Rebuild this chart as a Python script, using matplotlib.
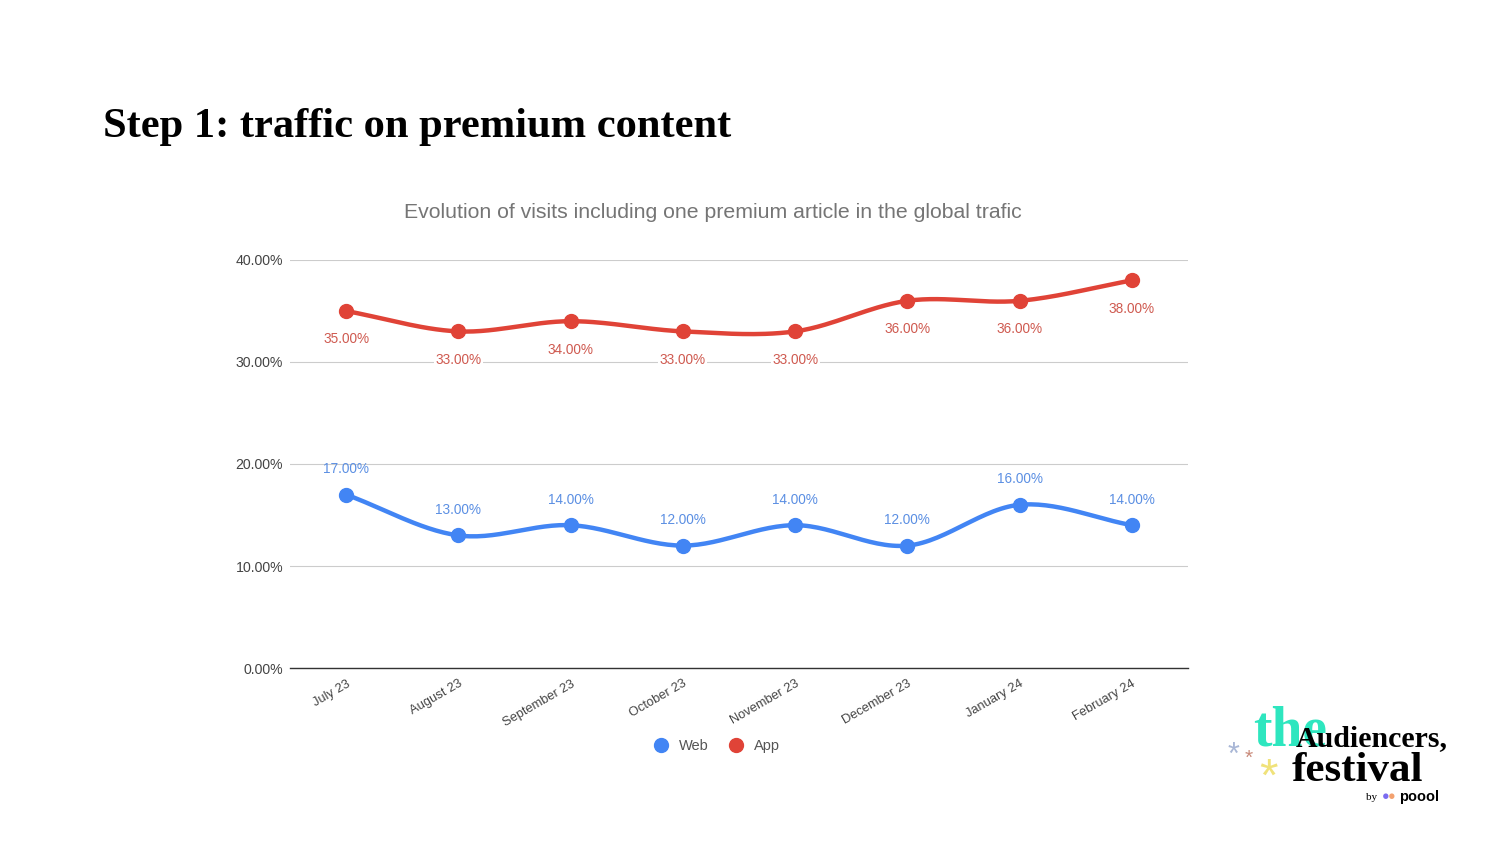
"""
Step 1: traffic on premium content - line chart with smoothed curves.
"""

import numpy as np
import matplotlib.pyplot as plt
from matplotlib.lines import Line2D

# Data
months = ['July 23', 'August 23', 'September 23', 'October 23',
          'November 23', 'December 23', 'January 24', 'February 24']
web = [17, 13, 14, 12, 14, 12, 16, 14]
app = [35, 33, 34, 33, 33, 36, 36, 38]
y_ticks = [0, 10, 20, 30, 40]

WEB_COLOR = '#4285f4'
APP_COLOR = '#e04337'
WEB_LABEL = '#5b8fe3'
APP_LABEL = '#cf5a50'


def smooth(x, y, steps=30):
    """Catmull-Rom spline through the points (drawing only)."""
    x = np.asarray(x, float)
    y = np.asarray(y, float)
    px = np.concatenate([[2 * x[0] - x[1]], x, [2 * x[-1] - x[-2]]])
    py = np.concatenate([[2 * y[0] - y[1]], y, [2 * y[-1] - y[-2]]])
    xs, ys = [], []
    t = np.linspace(0, 1, steps, endpoint=False)
    for i in range(1, len(px) - 2):
        for p, out in ((px, xs), (py, ys)):
            p0, p1, p2, p3 = p[i - 1], p[i], p[i + 1], p[i + 2]
            out.append(0.5 * ((2 * p1) + (-p0 + p2) * t
                              + (2 * p0 - 5 * p1 + 4 * p2 - p3) * t ** 2
                              + (-p0 + 3 * p1 - 3 * p2 + p3) * t ** 3))
    xs.append([x[-1]])
    ys.append([y[-1]])
    return np.concatenate(xs), np.concatenate(ys)


plt.rcParams['font.family'] = 'Liberation Sans'

fig = plt.figure(figsize=(15, 8.44), dpi=100)
ax = fig.add_axes([290 / 1500, 1 - 668 / 844, 898 / 1500, 408 / 844])

x = np.arange(len(months))

for vals, color in ((web, WEB_COLOR), (app, APP_COLOR)):
    sx, sy = smooth(x, vals)
    ax.plot(sx, sy, color=color, linewidth=3.2, solid_capstyle='round', zorder=3)
    ax.plot(x, vals, 'o', color=color, markersize=10, zorder=4)

# data labels
for xi, v in zip(x, web):
    ax.annotate(f'{v:.2f}%', (xi, v), xytext=(0, 18.5), textcoords='offset points',
                ha='center', va='center', fontsize=9.8, color=WEB_LABEL, zorder=5)
for xi, v in zip(x, app):
    ax.annotate(f'{v:.2f}%', (xi, v), xytext=(0, -20.5), textcoords='offset points',
                ha='center', va='center', fontsize=9.8, color=APP_LABEL, zorder=5,
                bbox=dict(boxstyle='square,pad=0.1', facecolor='white', edgecolor='none'))

ax.set_xlim(-0.5, len(months) - 0.5)
ax.set_ylim(0, 40)
ax.set_yticks(y_ticks)
ax.set_yticklabels([f'{t:.2f}%' for t in y_ticks], fontsize=10.2, color='#444444')
ax.set_xticks(x)
ax.set_xticklabels(months, rotation=30, ha='right', rotation_mode='anchor',
                   fontsize=9.3, color='#444444')
ax.tick_params(axis='y', length=0, pad=5)
ax.tick_params(axis='x', length=0, pad=7)
ax.grid(axis='y', color='#cccccc', linewidth=0.8, zorder=0)
for side in ('top', 'right', 'left'):
    ax.spines[side].set_visible(False)
ax.spines['bottom'].set_color('#333333')
ax.spines['bottom'].set_linewidth(1.0)
ax.spines['bottom'].set_zorder(2)

# legend
handles = [Line2D([], [], marker='o', linestyle='none', color=WEB_COLOR, markersize=10),
           Line2D([], [], marker='o', linestyle='none', color=APP_COLOR, markersize=10)]
fig.legend(handles, ['Web', 'App'], loc='center', bbox_to_anchor=(713 / 1500, 1 - 746 / 844),
           ncol=2, frameon=False, fontsize=10.5, handletextpad=0.2, columnspacing=0.9,
           labelcolor='#555555')

# titles
fig.text(103 / 1500, 1 - 137 / 844, 'Step 1: traffic on premium content',
         family='Liberation Serif', fontweight='bold', fontsize=30.6, color='black',
         va='baseline', ha='left')
fig.text(713 / 1500, 1 - 212 / 844,
         'Evolution of visits including one premium article in the global trafic',
         fontsize=15.3, color='#757575', ha='center', va='center')

# logo
fig.text(1253 / 1500, 1 - 745 / 844, 'the', family='Liberation Serif', fontweight='bold',
         fontsize=40, color='#2ee6bf', ha='left', va='baseline')
fig.text(1296 / 1500, 1 - 746 / 844, 'Audiencers,', family='Liberation Serif',
         fontweight='bold', fontsize=21.5, color='black', ha='left', va='baseline')
fig.text(1292 / 1500, 1 - 781 / 844, 'festival', family='Liberation Serif',
         fontweight='bold', fontsize=31, color='black', ha='left', va='baseline')
fig.text(1234 / 1500, 1 - 756 / 844, '*', fontsize=22, color='#a9b7d6', ha='center', va='center')
fig.text(1249 / 1500, 1 - 758 / 844, '*', fontsize=15, color='#c98a7a', ha='center', va='center')
fig.text(1268 / 1500, 1 - 779 / 844, '*', fontsize=34, color='#f0e27a', ha='center', va='center')
fig.text(1366 / 1500, 1 - 797 / 844, 'by', family='Liberation Serif', fontsize=8,
         color='black', ha='left', va='center')
fig.text(1386 / 1500, 1 - 797 / 844, '●', fontsize=9, color='#7b6cf0', ha='center', va='center')
fig.text(1392 / 1500, 1 - 797 / 844, '●', fontsize=9, color='#f08a4b', ha='center', va='center',
         alpha=0.8)
fig.text(1399 / 1500, 1 - 797 / 844, 'poool', fontsize=10.5, fontweight='bold',
         color='black', ha='left', va='center')

fig.savefig('out.png', dpi=100)
